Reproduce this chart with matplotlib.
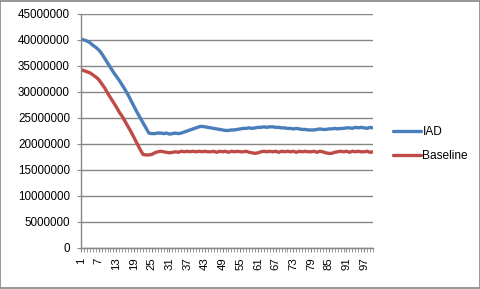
import matplotlib

matplotlib.use("Agg")
import matplotlib.pyplot as plt
from matplotlib.patches import Rectangle

plt.rcParams["font.family"] = ["Liberation Sans", "DejaVu Sans"]

# values in millions, one per run (1..100)
iad = [
    40.2, 40.0, 39.8, 39.5, 39.0, 38.6, 38.1, 37.4, 36.5, 35.6,
    34.7, 33.8, 33.0, 32.2, 31.3, 30.4, 29.4, 28.3, 27.2, 26.1,
    25.1, 24.1, 23.1, 22.1, 22.0, 22.0, 22.1, 22.1, 22.0, 22.1,
    21.9, 22.0, 22.1, 22.0, 22.1, 22.3, 22.5, 22.7, 22.9, 23.1,
    23.3, 23.4, 23.3, 23.2, 23.1, 23.0, 22.9, 22.8, 22.7, 22.6,
    22.6, 22.7, 22.7, 22.8, 22.9, 23.0, 23.0, 23.1, 23.0, 23.1,
    23.2, 23.2, 23.3, 23.2, 23.3, 23.3, 23.2, 23.2, 23.1, 23.1,
    23.0, 23.0, 22.9, 23.0, 22.9, 22.8, 22.8, 22.7, 22.7, 22.7,
    22.8, 22.9, 22.8, 22.8, 22.9, 22.9, 23.0, 22.9, 23.0, 23.0,
    23.1, 23.1, 23.0, 23.2, 23.1, 23.2, 23.1, 23.0, 23.2, 23.1,
]
baseline = [
    34.3, 34.1, 33.9, 33.7, 33.3, 32.9, 32.4, 31.6, 30.8, 29.8,
    28.9, 28.0, 27.1, 26.1, 25.3, 24.3, 23.3, 22.3, 21.2, 20.1,
    19.0, 18.0, 17.9, 17.9, 18.0, 18.3, 18.5, 18.6, 18.5, 18.4,
    18.3, 18.4, 18.5, 18.4, 18.6, 18.5, 18.6, 18.5, 18.6, 18.5,
    18.6, 18.5, 18.6, 18.5, 18.5, 18.6, 18.4, 18.6, 18.5, 18.6,
    18.4, 18.6, 18.5, 18.6, 18.5, 18.5, 18.6, 18.4, 18.3, 18.2,
    18.3, 18.5, 18.6, 18.5, 18.6, 18.5, 18.6, 18.4, 18.6, 18.5,
    18.6, 18.5, 18.6, 18.4, 18.6, 18.5, 18.6, 18.5, 18.5, 18.6,
    18.4, 18.6, 18.5, 18.3, 18.2, 18.2, 18.4, 18.5, 18.6, 18.5,
    18.6, 18.4, 18.6, 18.5, 18.6, 18.5, 18.5, 18.6, 18.4, 18.5,
]
runs = list(range(1, len(iad) + 1))
x_labels = list(range(1, 98, 6))
y_ticks = list(range(0, 45000001, 5000000))

GRID = "#868686"

fig = plt.figure(figsize=(4.81, 2.89), dpi=100)
ax = fig.add_axes([0.1684, 0.1419, 0.6071, 0.8097])

ax.plot(runs, [v * 1e6 for v in iad], color="#4A7EBB", lw=2.4, label="IAD",
        solid_capstyle="round")
ax.plot(runs, [v * 1e6 for v in baseline], color="#BE4B48", lw=2.4,
        label="Baseline", solid_capstyle="round")

ax.set_xlim(1, len(runs))
ax.set_ylim(0, 45000000)
ax.set_yticks(y_ticks)
ax.set_yticklabels([str(t) for t in y_ticks], fontsize=8.4)
ax.set_xticks(x_labels)
ax.set_xticklabels([str(t) for t in x_labels], rotation=90, fontsize=8.2)
ax.set_xticks(runs, minor=True)
ax.yaxis.grid(True, color=GRID, lw=1)
ax.set_axisbelow(True)

for side in ("top", "right"):
    ax.spines[side].set_visible(False)
for side in ("left", "bottom"):
    ax.spines[side].set_color(GRID)
    ax.spines[side].set_linewidth(1)
ax.tick_params(axis="y", length=3, color=GRID, pad=5)
ax.tick_params(axis="x", which="both", length=3, color=GRID, pad=4)

fig.legend(loc="center left", bbox_to_anchor=(0.795, 0.502), frameon=False,
           fontsize=8.6, handlelength=2.3, handletextpad=0.15,
           labelspacing=1.0)

fig.patches.append(Rectangle((0.001, 0.002), 0.997, 0.995, transform=fig.transFigure,
                             fill=False, edgecolor=GRID, lw=1.2))

fig.savefig("out.png", dpi=100)
